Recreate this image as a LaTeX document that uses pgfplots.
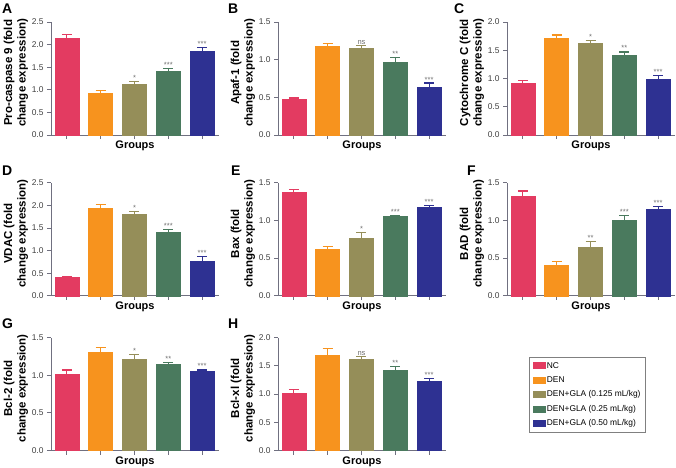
\documentclass[border=0pt]{standalone}
\usepackage{pgfplots}
\pgfplotsset{compat=1.18}
\usepackage{fontspec}
\setmainfont{Liberation Sans}
\definecolor{cNC}{HTML}{E33B61}
\definecolor{cDEN}{HTML}{F7931E}
\definecolor{cG1}{HTML}{958E59}
\definecolor{cG2}{HTML}{4A7A5E}
\definecolor{cG3}{HTML}{2E3192}
\definecolor{axc}{HTML}{707080}
\definecolor{sigc}{HTML}{707070}
\pgfplotsset{
  panel/.style={
    scale only axis, width=168pt, height=113pt, anchor=south west,
    ybar, bar width=0.71, bar shift=0pt,
    xmin=-0.47, xmax=4.5, ymin=0,
    xtick={0,1,2,3,4}, xticklabels={},
    axis x line*=bottom, axis y line*=left,
    axis line style={-, draw=axc, line width=0.9pt},
    tick style={draw=axc, line width=0.8pt},
    tick align=outside, major tick length=4pt,
    clip=false,
    /pgf/number format/assume math mode=true,
    yticklabel style={/pgf/number format/.cd, fixed, fixed zerofill, precision=1},
    ticklabel style={font=\fontsize{8.4}{10}\selectfont, text=black!75},
    ylabel style={at={(axis description cs:-0.115,0.55)}, anchor=south, align=center,
      font=\bfseries\fontsize{11.5}{13.5}\selectfont},
    xlabel={Groups},
    xlabel style={at={(axis description cs:0.5,0)}, anchor=center, yshift=-11pt,
      font=\bfseries\fontsize{11}{13}\selectfont},
  },
  bb/.style={fill=#1, draw=#1,
    error bars/y dir=plus, error bars/y explicit,
    error bars/error bar style={draw=#1, line width=1.2pt},
    error bars/error mark options={rotate=90, mark size=5pt, line width=1.2pt, draw=#1}},
  sig/.style={forget plot, draw=none, fill=none, nodes near coords,
    point meta=explicit symbolic,
    every node near coord/.append style={font=\fontsize{7.5}{8}\selectfont, text=sigc,
      anchor=south, inner sep=0.8pt}},
}
\begin{document}
\begin{tikzpicture}
\tikzset{lett/.style={anchor=base west, inner sep=0pt, font=\bfseries\fontsize{14}{14}\selectfont}}
% A
\begin{axis}[panel, at={(51pt,-135pt)}, ymax=2.5, ytick={0,0.5,1,1.5,2,2.5},
  ylabel={Pro-caspase 9 (fold\\change expression)}]
\addplot[bb=cNC] coordinates {(0,2.14) +- (0,0.09)};
\addplot[bb=cDEN] coordinates {(1,0.92) +- (0,0.06)};
\addplot[bb=cG1] coordinates {(2,1.12) +- (0,0.06)};
\addplot[bb=cG2] coordinates {(3,1.42) +- (0,0.05)};
\addplot[bb=cG3] coordinates {(4,1.85) +- (0,0.08)};
\addplot[sig] coordinates {(2,1.18) [*] (3,1.47) [***] (4,1.93) [***]};
\end{axis}
% B
\begin{axis}[panel, at={(278pt,-135pt)}, ymax=1.5, ytick={0,0.5,1,1.5},
  ylabel={Apaf-1 (fold\\change expression)}]
\addplot[bb=cNC] coordinates {(0,0.47) +- (0,0.02)};
\addplot[bb=cDEN] coordinates {(1,1.18) +- (0,0.04)};
\addplot[bb=cG1] coordinates {(2,1.15) +- (0,0.04)};
\addplot[bb=cG2] coordinates {(3,0.96) +- (0,0.07)};
\addplot[bb=cG3] coordinates {(4,0.63) +- (0,0.06)};
\addplot[sig] coordinates {(2,1.19) [ns] (3,1.03) [**] (4,0.69) [***]};
\end{axis}
% C
\begin{axis}[panel, at={(507pt,-135pt)}, ymax=2, ytick={0,0.5,1,1.5,2},
  ylabel={Cytochrome C (fold\\change expression)}]
\addplot[bb=cNC] coordinates {(0,0.92) +- (0,0.05)};
\addplot[bb=cDEN] coordinates {(1,1.72) +- (0,0.05)};
\addplot[bb=cG1] coordinates {(2,1.62) +- (0,0.05)};
\addplot[bb=cG2] coordinates {(3,1.41) +- (0,0.06)};
\addplot[bb=cG3] coordinates {(4,0.98) +- (0,0.08)};
\addplot[sig] coordinates {(2,1.67) [*] (3,1.47) [**] (4,1.06) [***]};
\end{axis}
% D
\begin{axis}[panel, at={(51pt,-295.7pt)}, ymax=2.5, ytick={0,0.5,1,1.5,2,2.5},
  ylabel={VDAC (fold\\change expression)}]
\addplot[bb=cNC] coordinates {(0,0.41) +- (0,0.02)};
\addplot[bb=cDEN] coordinates {(1,1.94) +- (0,0.08)};
\addplot[bb=cG1] coordinates {(2,1.80) +- (0,0.06)};
\addplot[bb=cG2] coordinates {(3,1.41) +- (0,0.05)};
\addplot[bb=cG3] coordinates {(4,0.77) +- (0,0.10)};
\addplot[sig] coordinates {(2,1.86) [*] (3,1.46) [***] (4,0.87) [***]};
\end{axis}
% E
\begin{axis}[panel, at={(278pt,-295.7pt)}, ymax=1.5, ytick={0,0.5,1,1.5},
  ylabel={Bax (fold\\change expression)}]
\addplot[bb=cNC] coordinates {(0,1.37) +- (0,0.04)};
\addplot[bb=cDEN] coordinates {(1,0.62) +- (0,0.03)};
\addplot[bb=cG1] coordinates {(2,0.77) +- (0,0.07)};
\addplot[bb=cG2] coordinates {(3,1.05) +- (0,0.02)};
\addplot[bb=cG3] coordinates {(4,1.17) +- (0,0.03)};
\addplot[sig] coordinates {(2,0.84) [*] (3,1.07) [***] (4,1.20) [***]};
\end{axis}
% F
\begin{axis}[panel, at={(507pt,-295.7pt)}, ymax=1.5, ytick={0,0.5,1,1.5},
  ylabel={BAD (fold\\change expression)}]
\addplot[bb=cNC] coordinates {(0,1.32) +- (0,0.07)};
\addplot[bb=cDEN] coordinates {(1,0.40) +- (0,0.05)};
\addplot[bb=cG1] coordinates {(2,0.64) +- (0,0.08)};
\addplot[bb=cG2] coordinates {(3,1.00) +- (0,0.06)};
\addplot[bb=cG3] coordinates {(4,1.15) +- (0,0.03)};
\addplot[sig] coordinates {(2,0.72) [**] (3,1.06) [***] (4,1.18) [***]};
\end{axis}
% G
\begin{axis}[panel, at={(51pt,-450.5pt)}, ymax=1.5, ytick={0,0.5,1,1.5},
  ylabel={Bcl-2 (fold\\change expression)}]
\addplot[bb=cNC] coordinates {(0,1.01) +- (0,0.06)};
\addplot[bb=cDEN] coordinates {(1,1.31) +- (0,0.06)};
\addplot[bb=cG1] coordinates {(2,1.21) +- (0,0.06)};
\addplot[bb=cG2] coordinates {(3,1.15) +- (0,0.02)};
\addplot[bb=cG3] coordinates {(4,1.05) +- (0,0.02)};
\addplot[sig] coordinates {(2,1.27) [*] (3,1.17) [**] (4,1.07) [***]};
\end{axis}
% H
\begin{axis}[panel, at={(278pt,-450.5pt)}, ymax=2, ytick={0,0.5,1,1.5,2},
  ylabel={Bcl-xl (fold\\change expression)},
  legend image code/.code={\fill[#1] (0pt,-3pt) rectangle (11.5pt,3pt);},
  legend style={at={(1.494,0.83)}, anchor=north west, draw=gray, line width=0.8pt,
    font=\fontsize{8.4}{10}\selectfont, legend cell align=left,
    row sep=4pt, inner xsep=4pt, inner ysep=3.5pt,
    nodes={inner sep=1.2pt, text height=6.3pt, text depth=1.7pt}}]
\addplot[bb=cNC] coordinates {(0,1.02) +- (0,0.06)};
\addplot[bb=cDEN] coordinates {(1,1.68) +- (0,0.13)};
\addplot[bb=cG1] coordinates {(2,1.62) +- (0,0.05)};
\addplot[bb=cG2] coordinates {(3,1.42) +- (0,0.07)};
\addplot[bb=cG3] coordinates {(4,1.23) +- (0,0.05)};
\addplot[sig] coordinates {(2,1.67) [ns] (3,1.49) [**] (4,1.28) [***]};
\legend{NC, DEN, DEN+GLA (0.125 mL/kg), DEN+GLA (0.25 mL/kg), DEN+GLA (0.50 mL/kg)}
\end{axis}
\node[lett] at (2pt,-13.3pt) {A};
\node[lett] at (228pt,-13.3pt) {B};
\node[lett] at (454pt,-13.3pt) {C};
\node[lett] at (2pt,-175pt) {D};
\node[lett] at (231pt,-175pt) {E};
\node[lett] at (467pt,-175pt) {F};
\node[lett] at (2pt,-328pt) {G};
\node[lett] at (228pt,-328pt) {H};
\pgfresetboundingbox
\path (0pt,0pt) rectangle (676pt,-467pt);
\end{tikzpicture}
\end{document}
